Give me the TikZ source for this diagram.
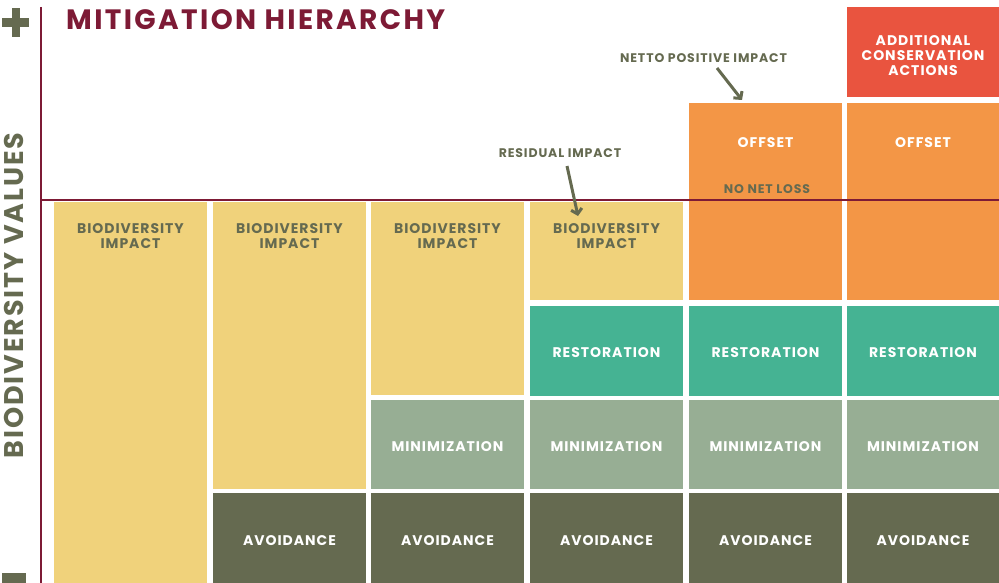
\documentclass[tikz,border=0pt]{standalone}
\usepackage{fontspec}
\setmainfont{Poppins}
\newfontfamily\labfont{Poppins}[LetterSpace=7]
\newfontfamily\titlefont{Poppins}[LetterSpace=8.5]
\usetikzlibrary{arrows.meta}
\newcommand{\cellstr}[1]{\raisebox{-1.8pt}[\height][\depth]{#1}}
\definecolor{maroon}{HTML}{7D1A35}
\definecolor{olive}{HTML}{656A50}
\definecolor{yel}{HTML}{F0D27B}
\definecolor{mini}{HTML}{97AE94}
\definecolor{resto}{HTML}{45B393}
\definecolor{offs}{HTML}{F39646}
\definecolor{addc}{HTML}{E9543F}
\tikzset{
  cell/.style={inner sep=0pt, outer sep=0pt, minimum width=153pt, text=white,
    font=\labfont\bfseries\fontsize{14}{15}\selectfont, align=center},
  celltext/.style={inner sep=0pt, outer sep=0pt,
    font=\labfont\bfseries\fontsize{14}{15}\selectfont, align=center},
  smalllab/.style={inner sep=0pt, outer sep=0pt, text=olive,
    font=\labfont\bfseries\fontsize{12.5}{14}\selectfont, align=center},
  axisline/.style={draw=maroon, line width=2.2pt},
  pointer/.style={draw=olive, line width=3pt, -{Straight Barb[length=5pt,width=11pt,line width=3pt]}},
}
\begin{document}
\begin{tikzpicture}[x=1pt,y=-1pt]
\useasboundingbox (0,0) rectangle (999,583);
% column 1
\node[cell, fill=yel, minimum height=382pt] (y1) at (130.5,393) {};
% column 2
\node[cell, fill=yel, minimum height=287pt] (y2) at (289.5,345.5) {};
\node[cell, fill=olive, minimum height=91pt] (a2) at (289.5,538.5) {\cellstr{AVOIDANCE}};
% column 3
\node[cell, fill=yel, minimum height=193pt] (y3) at (447.5,298.5) {};
\node[cell, fill=mini, minimum height=89pt] (m3) at (447.5,444.5) {\cellstr{MINIMIZATION}};
\node[cell, fill=olive, minimum height=91pt] (a3) at (447.5,538.5) {\cellstr{AVOIDANCE}};
% column 4
\node[cell, fill=yel, minimum height=98pt] (y4) at (606.5,251) {};
\node[cell, fill=resto, minimum height=90pt] (r4) at (606.5,351) {\cellstr{RESTORATION}};
\node[cell, fill=mini, minimum height=89pt] (m4) at (606.5,444.5) {\cellstr{MINIMIZATION}};
\node[cell, fill=olive, minimum height=91pt] (a4) at (606.5,538.5) {\cellstr{AVOIDANCE}};
% column 5
\node[cell, fill=offs, minimum height=197pt] (o5) at (765.5,201.5) {};
\node[cell, fill=resto, minimum height=90pt] (r5) at (765.5,351) {\cellstr{RESTORATION}};
\node[cell, fill=mini, minimum height=89pt] (m5) at (765.5,444.5) {\cellstr{MINIMIZATION}};
\node[cell, fill=olive, minimum height=91pt] (a5) at (765.5,538.5) {\cellstr{AVOIDANCE}};
% column 6
\node[cell, fill=addc, minimum height=90pt] (ad6) at (923,52) {};
\node[cell, fill=offs, minimum height=197pt] (o6) at (923,201.5) {};
\node[cell, fill=resto, minimum height=90pt] (r6) at (923,351) {\cellstr{RESTORATION}};
\node[cell, fill=mini, minimum height=89pt] (m6) at (923,444.5) {\cellstr{MINIMIZATION}};
\node[cell, fill=olive, minimum height=91pt] (a6) at (923,538.5) {\cellstr{AVOIDANCE}};
% labels in cells
\node[celltext, text=olive, anchor=north] (t1) at (130.5,224) {BIODIVERSITY\\IMPACT};
\node[celltext, text=olive, anchor=north] (t2) at (289.5,224) {BIODIVERSITY\\IMPACT};
\node[celltext, text=olive, anchor=north] (t3) at (447.5,224) {BIODIVERSITY\\IMPACT};
\node[celltext, text=olive, anchor=north] (t4) at (606.5,224) {BIODIVERSITY\\IMPACT};
\node[celltext, text=white, anchor=north] (t5) at (765.5,138) {OFFSET};
\node[celltext, text=white, anchor=north] (t6) at (923,138) {OFFSET};
\node[celltext, text=white, anchor=north] (t7) at (923,35.5) {ADDITIONAL\\CONSERVATION\\ACTIONS};
% axes
\draw[axisline] (41,7) -- (41,583);
\draw[axisline] (41,200) -- (999,200);
% plus and minus
\fill[olive] (12,8) rectangle (19.5,37);
\fill[olive] (2,18) rectangle (29,27);
\fill[olive] (2,573) rectangle (26,583);
% title and axis label
\node[inner sep=0pt, anchor=base west, text=maroon, font=\titlefont\bfseries\fontsize{28}{30}\selectfont] (title) at (66,29.5) {MITIGATION HIERARCHY};
\node[inner sep=0pt, rotate=90, text=olive, font=\labfont\bfseries\fontsize{27}{30}\selectfont] (yaxis) at (13.5,295.5) {BIODIVERSITY VALUES};
% annotations
\node[smalllab] (res) at (560,153) {RESIDUAL IMPACT};
\node[smalllab] (net) at (703.5,58.5) {NETTO POSITIVE IMPACT};
\node[smalllab] (nnl) at (767,189) {NO NET LOSS};
\coordinate (resA) at (567,166);
\coordinate (resB) at (578,216);
\coordinate (netA) at (717,68);
\coordinate (netB) at (742,100);
\draw[pointer] (resA) -- (resB);
\draw[pointer] (netA) -- (netB);
\end{tikzpicture}
\end{document}
